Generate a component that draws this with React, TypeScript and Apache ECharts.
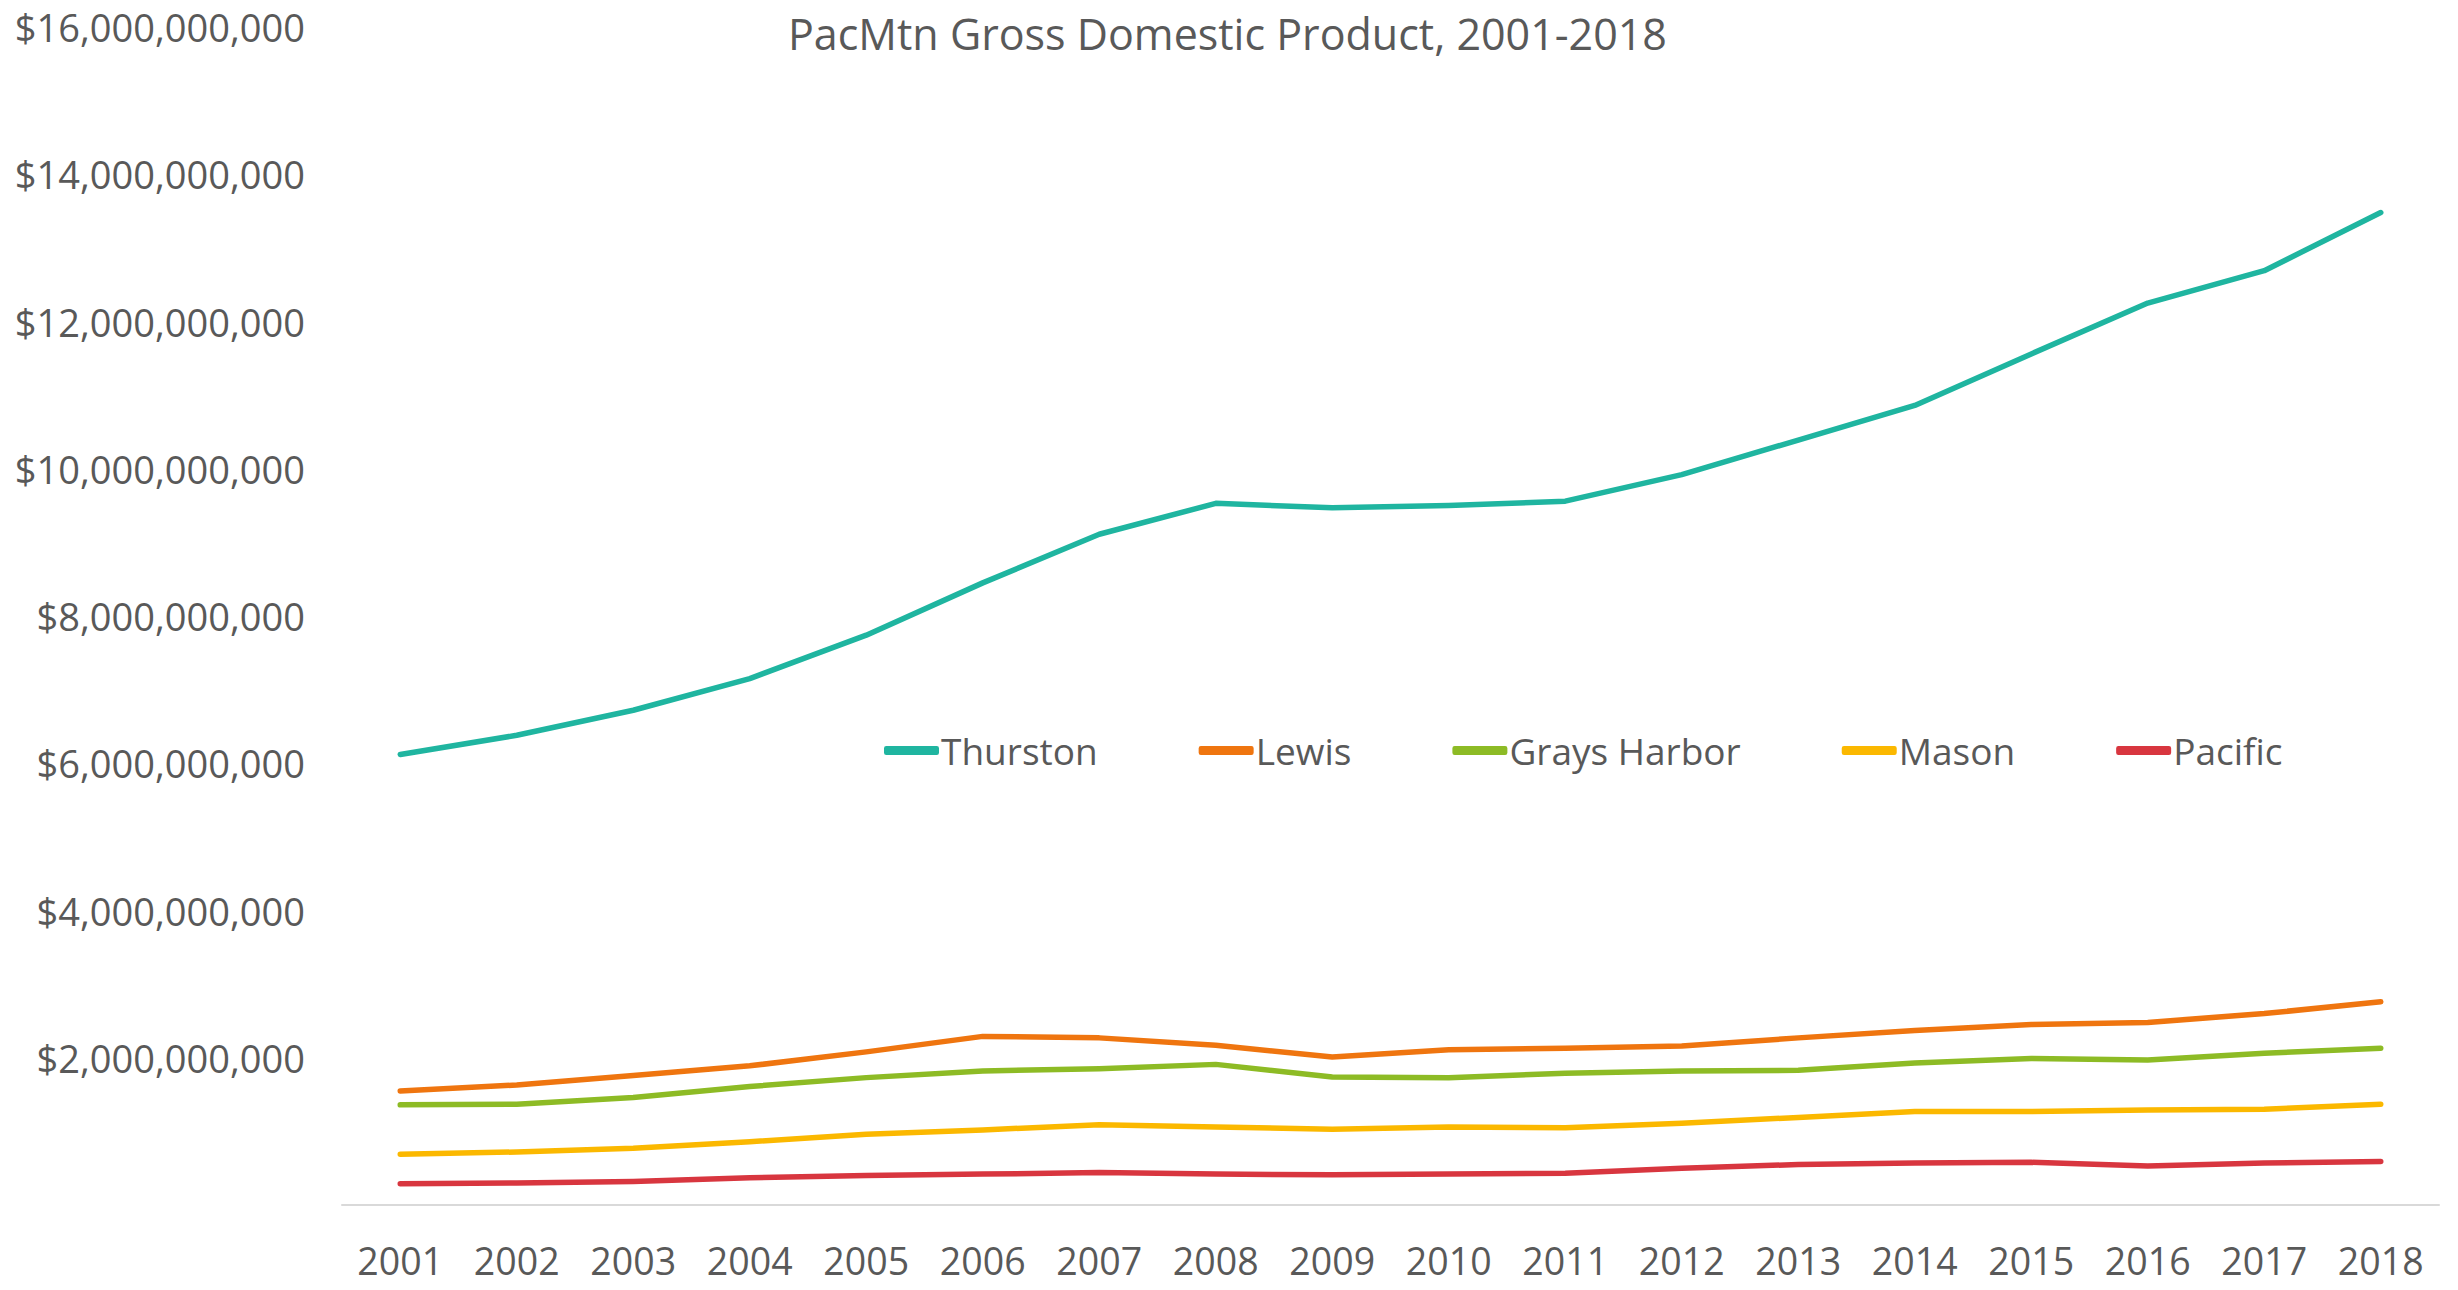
import React, { useEffect, useRef } from "react";
import * as echarts from "echarts";

const years = ["2001","2002","2003","2004","2005","2006","2007","2008","2009","2010","2011","2012","2013","2014","2015","2016","2017","2018"];
const thurston = [6.12, 6.38, 6.72, 7.15, 7.74, 8.45, 9.11, 9.53, 9.47, 9.50, 9.56, 9.92, 10.39, 10.86, 11.56, 12.25, 12.69, 13.48];
const lewis = [1.55, 1.63, 1.76, 1.89, 2.08, 2.29, 2.27, 2.17, 2.01, 2.11, 2.13, 2.16, 2.27, 2.37, 2.45, 2.48, 2.60, 2.76];
const graysHarbor = [1.36, 1.37, 1.46, 1.61, 1.73, 1.82, 1.85, 1.91, 1.74, 1.73, 1.79, 1.82, 1.83, 1.93, 1.99, 1.97, 2.06, 2.13];
const mason = [0.69, 0.72, 0.77, 0.86, 0.96, 1.02, 1.09, 1.06, 1.03, 1.06, 1.05, 1.11, 1.19, 1.27, 1.27, 1.29, 1.30, 1.37];
const pacific = [0.29, 0.30, 0.32, 0.37, 0.40, 0.42, 0.44, 0.42, 0.41, 0.42, 0.43, 0.50, 0.55, 0.57, 0.58, 0.53, 0.57, 0.59];
const seriesNames = ["Thurston", "Lewis", "Grays Harbor", "Mason", "Pacific"];
const seriesColors = ["#1FB5A0", "#EF750F", "#8DBB25", "#FBB800", "#D8363F"];
const BILLION = 1e9;

export default function App() {
  const ref = useRef<HTMLDivElement>(null);
  useEffect(() => {
    if (!ref.current) return;
    const chart = echarts.init(ref.current, null, { renderer: "svg" });
    const font = "'Open Sans', sans-serif";
    const txt = "#595959";
    const all = [thurston, lewis, graysHarbor, mason, pacific];
    chart.setOption({
      animation: false,
      backgroundColor: "#ffffff",
      title: {
        text: "PacMtn Gross Domestic Product, 2001-2018",
        left: 783,
        top: 7,
        textStyle: { fontFamily: font, fontSize: 43, fontWeight: "normal", color: txt },
      },
      legend: {
        data: seriesNames,
        left: 879,
        top: 727,
        itemWidth: 55,
        itemHeight: 9,
        itemGap: 101,
        icon: "roundRect",
        textStyle: { fontFamily: font, fontSize: 37, color: txt, padding: [0, 0, 0, -3] },
      },
      grid: { left: 342, right: 19, top: 27, bottom: 85, containLabel: false },
      xAxis: {
        type: "category",
        data: years,
        boundaryGap: true,
        axisLine: { lineStyle: { color: "#D9D9D9", width: 2 } },
        axisTick: { show: false },
        axisLabel: { fontFamily: font, fontSize: 37.5, color: txt, margin: 36 },
      },
      yAxis: {
        type: "value",
        min: 0,
        max: 16 * BILLION,
        interval: 2 * BILLION,
        splitLine: { show: false },
        axisLine: { show: false },
        axisTick: { show: false },
        axisLabel: {
          fontFamily: font,
          fontSize: 38,
          color: txt,
          margin: 37,
          formatter: (v: number) => (v === 0 ? "" : "$" + Math.round(v).toLocaleString("en-US")),
        },
      },
      series: all.map((d, i) => ({
        name: seriesNames[i],
        type: "line",
        data: d.map((v) => v * BILLION),
        showSymbol: false,
        symbol: "none",
        color: seriesColors[i],
        lineStyle: { width: 5.5, color: seriesColors[i], cap: "round", join: "round" },
      })),
    });
    return () => chart.dispose();
  }, []);
  return <div ref={ref} style={{ position: "absolute", left: 0, top: 0, width: 2458, height: 1290 }} />;
}
